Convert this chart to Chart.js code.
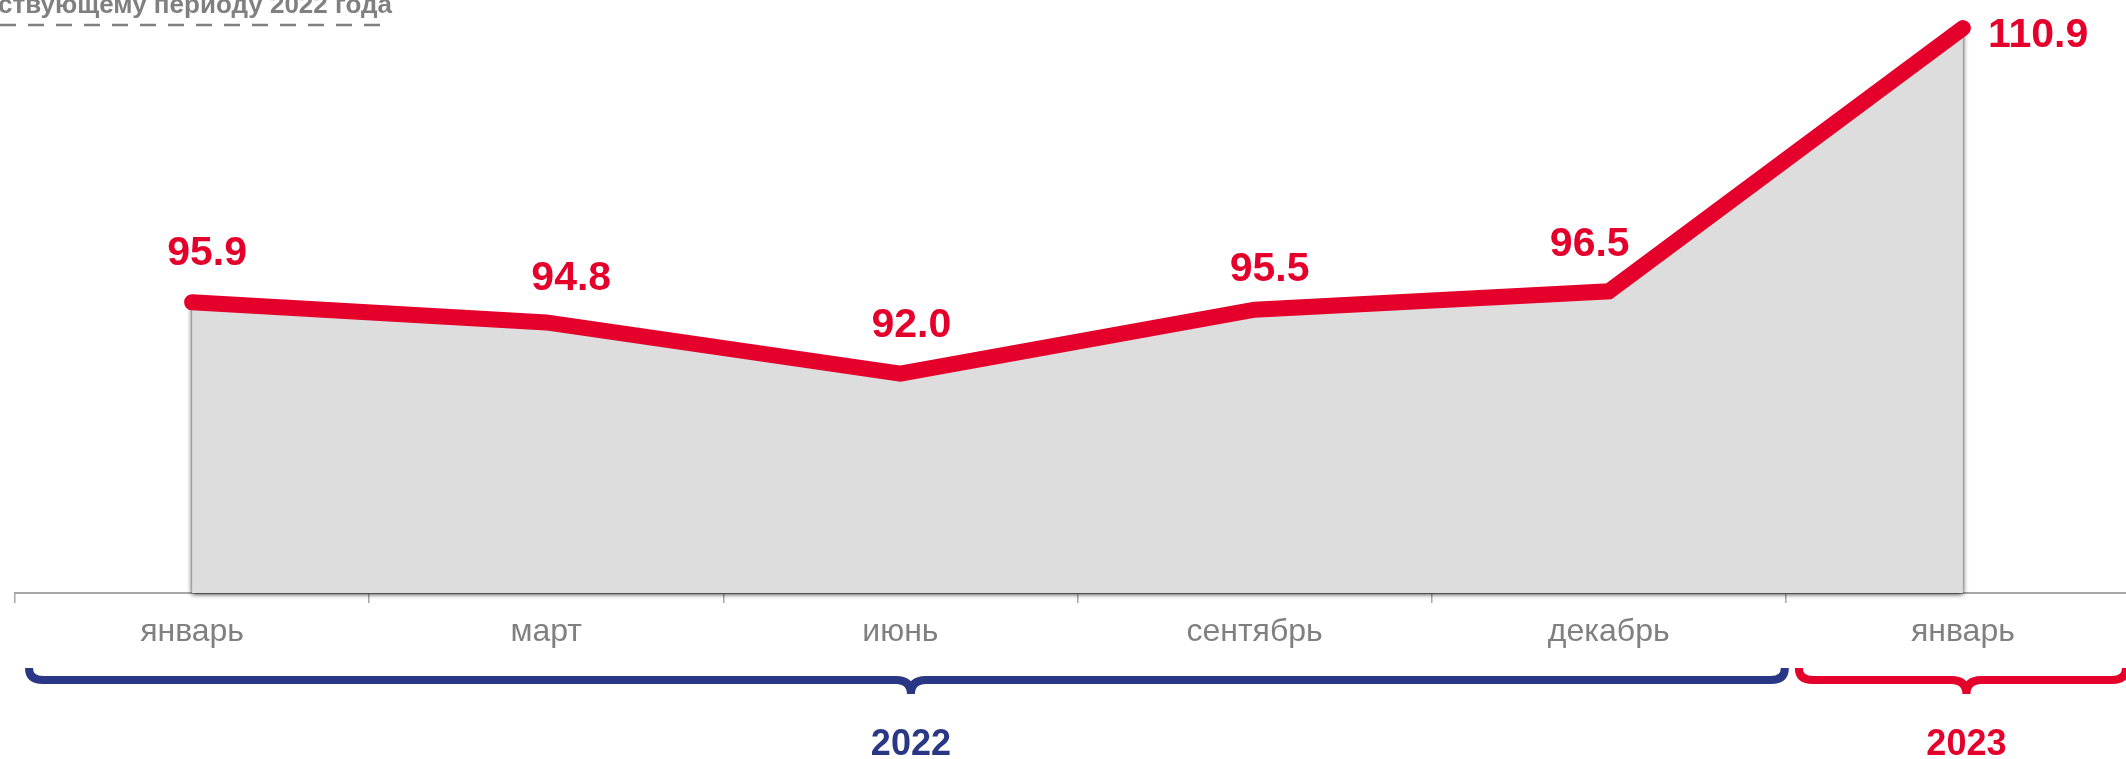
<!DOCTYPE html>
<html>
<head>
<meta charset="utf-8">
<script src="https://cdn.jsdelivr.net/npm/chart.js@4/dist/chart.umd.min.js"></script>
<style>
  html, body { margin: 0; padding: 0; background: #fff; overflow: hidden; }
  #wrap { position: relative; width: 2160px; height: 759px; }
</style>
</head>
<body>
<div id="wrap"><canvas id="chart"></canvas></div>
<script>
// данные
const months = ['январь', 'март', 'июнь', 'сентябрь', 'декабрь', 'январь'];
const values = [95.9, 94.8, 92.0, 95.5, 96.5, 110.9];
const years = ['2022', '2023'];
const yearSpans = [5, 1];
const noteText = 'ствующему периоду 2022 года';

const FONT = '"Liberation Sans", Arial, sans-serif';
const RED = '#e4002b';
const NAVY = '#2a3784';
const GREY = '#808080';
const AXIS = '#a6a6a6';

// сдвиг подписей относительно точки (последняя — справа)
const labelNudge = [[15, -37], [25, -32], [11, -37], [15, -29], [-19, -35], [25, 19]];

const decorPlugin = {
  id: 'decor',
  // серая область под линией с тенью
  beforeDatasetsDraw(chart) {
    const ctx = chart.ctx;
    const pts = chart.getDatasetMeta(0).data;
    const base = chart.scales.y.getPixelForValue(chart.scales.y.min);
    ctx.save();
    ctx.shadowColor = 'rgba(0,0,0,0.9)';
    ctx.shadowBlur = 5;
    ctx.shadowOffsetX = 0;
    ctx.shadowOffsetY = 1;
    ctx.fillStyle = '#dddddd';
    ctx.beginPath();
    ctx.moveTo(pts[0].x, base);
    pts.forEach(p => ctx.lineTo(p.x, p.y));
    ctx.lineTo(pts[pts.length - 1].x, base);
    ctx.closePath();
    ctx.fill();
    ctx.restore();
  },
  afterDatasetsDraw(chart) {
    const ctx = chart.ctx;
    const meta = chart.getDatasetMeta(0);
    ctx.save();
    ctx.fillStyle = RED;
    ctx.font = 'bold 41px ' + FONT;
    ctx.textBaseline = 'alphabetic';
    meta.data.forEach((pt, i) => {
      const last = i === values.length - 1;
      const [dx, dy] = labelNudge[i];
      ctx.textAlign = last ? 'left' : 'center';
      ctx.fillText(values[i].toFixed(1), pt.x + dx, pt.y + dy);
    });
    ctx.restore();
  },
  afterDraw(chart) {
    const ctx = chart.ctx;
    const x = chart.scales.x;
    const w = x.getPixelForValue(1) - x.getPixelForValue(0);

    // скобки с годами
    const colors = [NAVY, RED];
    let start = 0;
    years.forEach((yr, g) => {
      const end = start + yearSpans[g] - 1;
      const x0 = x.getPixelForValue(start) - w / 2 + (g === 0 ? 14 : 13);
      const x1 = x.getPixelForValue(end) + w / 2 - (g === 0 ? 1 : 14);
      const xm = (x0 + x1) / 2 + 4;
      const yb = 680, yt = 668, yc = 694, r = 14, rc = 15;
      ctx.save();
      ctx.strokeStyle = colors[g];
      ctx.lineWidth = 8;
      ctx.lineJoin = 'bevel';
      ctx.beginPath();
      ctx.moveTo(x0, yt);
      ctx.quadraticCurveTo(x0, yb, x0 + r, yb);
      ctx.lineTo(xm - rc, yb);
      ctx.quadraticCurveTo(xm, yb, xm, yc);
      ctx.quadraticCurveTo(xm, yb, xm + rc, yb);
      ctx.lineTo(x1 - r, yb);
      ctx.quadraticCurveTo(x1, yb, x1, yt);
      ctx.stroke();
      ctx.fillStyle = colors[g];
      ctx.font = 'bold 36px ' + FONT;
      ctx.textAlign = 'center';
      ctx.textBaseline = 'alphabetic';
      ctx.fillText(yr, xm, 755);
      ctx.restore();
      start = end + 1;
    });

    // обрезанная подпись сверху слева
    ctx.save();
    ctx.fillStyle = GREY;
    ctx.font = 'bold 26px ' + FONT;
    ctx.textAlign = 'right';
    ctx.textBaseline = 'alphabetic';
    ctx.fillText(noteText, 392, 13);
    ctx.strokeStyle = GREY;
    ctx.lineWidth = 2.5;
    ctx.setLineDash([16, 12]);
    ctx.beginPath();
    ctx.moveTo(380, 25);
    ctx.lineTo(0, 25);
    ctx.stroke();
    ctx.restore();
  }
};

new Chart(document.getElementById('chart'), {
  type: 'line',
  data: {
    labels: months,
    datasets: [
      {
        data: values,
        borderColor: RED,
        borderWidth: 16,
        borderCapStyle: 'round',
        borderJoinStyle: 'miter',
        pointRadius: 0,
        fill: false,
        tension: 0,
        clip: false
      }
    ]
  },
  options: {
    responsive: true,
    maintainAspectRatio: false,
    animation: false,
    layout: { padding: { top: 8, left: 15, right: 20, bottom: 0 } },
    plugins: {
      legend: { display: false },
      tooltip: { enabled: false }
    },
    scales: {
      x: {
        offset: true,
        grid: { offset: true, drawOnChartArea: false, color: AXIS, lineWidth: 1.5, tickLength: 10 },
        border: { display: true, color: AXIS, width: 2 },
        ticks: { color: GREY, font: { family: FONT, size: 32 }, padding: 10, maxRotation: 0, autoSkip: false },
        afterFit(scale) { scale.height = 166; }
      },
      y: { display: false, min: 80, max: 112 }
    }
  },
  plugins: [decorPlugin]
});
</script>
</body>
</html>
